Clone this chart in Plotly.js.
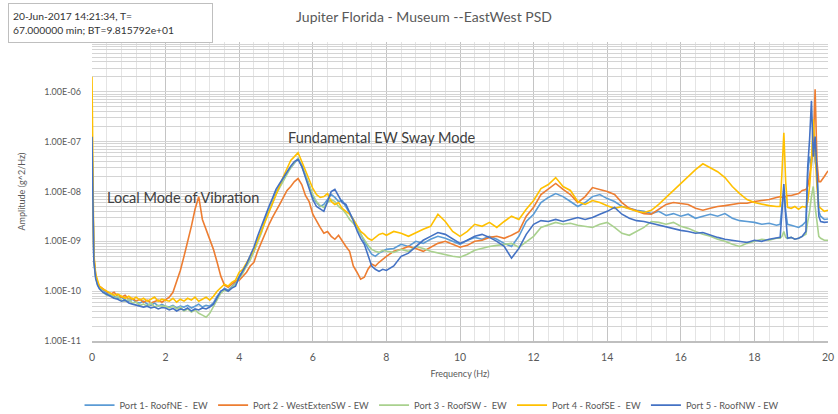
<!DOCTYPE html>
<html>
<head>
<meta charset="utf-8">
<script src="https://cdn.plot.ly/plotly-3.0.1.min.js"></script>
<style>html,body{margin:0;padding:0;background:#fff;}#chart{width:838px;height:414px;}</style>
</head>
<body>
<div id="chart"></div>
<script>
// Frequency (Hz)
const freq = [0,0.05,0.1,0.15,
0.2,0.3,0.4,0.5,0.6,0.7,0.8,0.9,1.0,1.1,1.2,1.3,1.4,1.5,1.6,1.7,1.8,1.9,
2.0,2.1,2.2,2.3,2.4,2.5,2.6,2.7,2.8,2.9,3.0,3.1,3.2,3.3,3.4,3.5,3.6,3.7,3.8,3.9,
4.0,4.1,4.2,4.3,4.4,4.5,4.6,4.7,4.8,4.9,5.0,5.1,5.2,5.3,5.4,5.5,5.6,5.7,5.8,5.9,
6.0,6.1,6.2,6.3,6.4,6.5,6.6,6.7,6.8,6.9,7.0,7.1,7.2,7.3,7.4,7.5,7.6,7.7,7.8,7.9,8.0,
8.2,8.4,8.6,8.8,9.0,9.2,9.4,9.6,9.8,10.0,10.2,10.4,10.6,10.8,11.0,11.2,11.4,11.6,11.8,12.0,12.2,12.4,12.6,12.8,13.0,13.2,13.4,13.6,13.8,14.0,14.2,14.4,14.6,14.8,15.0,15.2,15.4,15.6,15.8,16.0,16.2,16.4,16.6,16.8,17.0,17.2,17.4,17.6,17.8,18.0,18.2,18.4,18.6,
18.7,18.75,18.8,18.85,18.9,19.0,19.1,19.2,19.3,19.4,19.45,19.5,19.55,19.6,19.65,19.7,19.75,19.8,19.9,20.0];

// Amplitude (g^2/Hz)
const port1 = [1.1e-7,4.5e-10,2.0e-10,1.4e-10,
1.2e-10,1.05e-10,9.1e-11,8.3e-11,7.9e-11,7.2e-11,7.6e-11,6.6e-11,6.3e-11,6.9e-11,6.0e-11,5.8e-11,6.3e-11,5.5e-11,5.2e-11,5.8e-11,5.0e-11,5.4e-11,
5.0e-11,4.8e-11,5.2e-11,4.6e-11,5.0e-11,4.8e-11,5.2e-11,4.6e-11,5.0e-11,5.5e-11,4.8e-11,5.2e-11,5.0e-11,5.8e-11,7.9e-11,9.5e-11,1.15e-10,1.05e-10,1.26e-10,1.45e-10,
2.0e-10,2.5e-10,3.3e-10,4.6e-10,6.3e-10,1.05e-9,1.5e-9,2.75e-9,4.0e-9,5.8e-9,9.5e-9,1.26e-8,1.74e-8,2.4e-8,3.0e-8,3.8e-8,4.6e-8,3.3e-8,2.1e-8,1.38e-8,
7.9e-9,6.0e-9,5.0e-9,5.5e-9,6.9e-9,8.7e-9,7.6e-9,6.3e-9,6.6e-9,5.0e-9,3.6e-9,2.75e-9,2.0e-9,1.38e-9,1.0e-9,7.2e-10,5.5e-10,5.0e-10,5.8e-10,6.3e-10,6.9e-10,
7.2e-10,8.7e-10,7.9e-10,1.0e-9,9.1e-10,1.1e-9,1.26e-9,1.15e-9,1.0e-9,8.7e-10,1.05e-9,1.2e-9,1.1e-9,1.26e-9,1.1e-9,9.1e-10,7.9e-10,1.26e-9,2.5e-9,3.5e-9,6.0e-9,7.6e-9,9.1e-9,7.9e-9,6.3e-9,5.0e-9,6.0e-9,7.9e-9,8.7e-9,7.2e-9,6.3e-9,5.0e-9,4.6e-9,4.2e-9,4.0e-9,3.6e-9,4.0e-9,3.3e-9,3.6e-9,3.2e-9,3.5e-9,2.9e-9,3.2e-9,3.5e-9,3.2e-9,3.6e-9,2.9e-9,2.6e-9,2.5e-9,2.4e-9,2.2e-9,2.3e-9,2.1e-9,
2.2e-9,5.0e-9,1.0e-8,4.0e-9,2.2e-9,2.1e-9,2.0e-9,1.9e-9,2.1e-9,2.5e-9,2.5e-8,5.0e-8,3.2e-8,1.6e-7,4.0e-8,2.5e-8,4.0e-9,3.2e-9,2.75e-9,2.8e-9];

const port2 = [7.9e-8,5.0e-10,2.1e-10,1.5e-10,
1.26e-10,1.1e-10,1.0e-10,8.7e-11,9.5e-11,7.9e-11,7.6e-11,8.3e-11,6.9e-11,7.2e-11,6.3e-11,6.9e-11,6.0e-11,6.6e-11,5.8e-11,6.3e-11,6.6e-11,6.0e-11,
6.9e-11,7.6e-11,9.5e-11,1.5e-10,2.6e-10,5.0e-10,9.5e-10,2.0e-9,4.4e-9,7.9e-9,2.75e-9,1.74e-9,1.1e-9,6.9e-10,3.8e-10,2.0e-10,1.32e-10,1.2e-10,1.38e-10,1.58e-10,
1.66e-10,2.0e-10,2.4e-10,3.2e-10,3.8e-10,6.3e-10,9.5e-10,1.5e-9,2.1e-9,3.0e-9,4.2e-9,5.5e-9,7.6e-9,1.05e-8,1.26e-8,1.58e-8,1.82e-8,1.38e-8,8.3e-9,6.3e-9,
3.5e-9,2.5e-9,1.9e-9,1.45e-9,1.58e-9,1.26e-9,1.1e-9,1.32e-9,1.0e-9,7.9e-10,6.3e-10,3.2e-10,2.4e-10,1.74e-10,1.9e-10,2.75e-10,3.5e-10,3.2e-10,3.8e-10,4.4e-10,5.0e-10,
6.3e-10,6.9e-10,7.9e-10,7.2e-10,6.3e-10,7.6e-10,9.1e-10,1.0e-9,8.7e-10,7.6e-10,8.3e-10,1.0e-9,1.05e-9,1.2e-9,1.26e-9,1.15e-9,1.32e-9,1.58e-9,3.2e-9,4.8e-9,8.7e-9,1.1e-8,1.45e-8,1.1e-8,8.7e-9,6.0e-9,7.9e-9,1.2e-8,1.1e-8,1.0e-8,8.7e-9,6.0e-9,4.6e-9,4.0e-9,3.6e-9,3.5e-9,4.4e-9,5.5e-9,6.0e-9,5.8e-9,5.5e-9,4.6e-9,4.2e-9,4.6e-9,5.0e-9,5.2e-9,5.5e-9,5.8e-9,5.8e-9,6.3e-9,6.6e-9,6.9e-9,7.6e-9,
7.9e-9,7.6e-9,7.9e-9,7.9e-9,8.3e-9,8.3e-9,8.7e-9,9.1e-9,1.05e-8,1.1e-8,1.26e-8,2.0e-8,4.0e-8,7.9e-8,1.12e-6,4.0e-8,1.58e-8,1.58e-8,2.0e-8,2.6e-8];

const port3 = [1.0e-7,4.0e-10,1.9e-10,1.38e-10,
1.15e-10,9.5e-11,8.3e-11,9.1e-11,7.2e-11,7.9e-11,6.6e-11,6.3e-11,6.9e-11,5.8e-11,6.0e-11,5.2e-11,5.5e-11,5.0e-11,5.8e-11,4.8e-11,5.2e-11,5.0e-11,
5.0e-11,4.6e-11,5.0e-11,4.4e-11,4.8e-11,4.0e-11,4.4e-11,3.8e-11,4.2e-11,3.6e-11,3.3e-11,3.0e-11,3.6e-11,5.0e-11,6.9e-11,9.1e-11,1.05e-10,1.0e-10,1.2e-10,1.38e-10,
1.82e-10,2.3e-10,3.2e-10,4.2e-10,6.3e-10,9.5e-10,1.45e-9,2.5e-9,3.8e-9,5.5e-9,8.7e-9,1.2e-8,1.66e-8,2.3e-8,3.0e-8,3.8e-8,4.6e-8,3.2e-8,2.0e-8,1.32e-8,
8.7e-9,6.3e-9,5.2e-9,4.8e-9,6.0e-9,6.9e-9,6.3e-9,5.0e-9,4.4e-9,3.6e-9,2.75e-9,2.3e-9,1.82e-9,1.38e-9,1.05e-9,8.3e-10,6.9e-10,6.3e-10,6.0e-10,6.6e-10,6.3e-10,
6.0e-10,6.9e-10,6.3e-10,7.9e-10,7.2e-10,6.3e-10,5.8e-10,5.5e-10,5.0e-10,4.8e-10,5.5e-10,6.6e-10,7.2e-10,7.9e-10,8.3e-10,8.7e-10,9.1e-10,7.6e-10,1.0e-9,1.26e-9,1.9e-9,2.1e-9,2.4e-9,2.2e-9,2.3e-9,2.1e-9,2.0e-9,1.9e-9,2.2e-9,2.4e-9,1.9e-9,1.45e-9,1.32e-9,1.58e-9,1.9e-9,2.5e-9,2.4e-9,2.2e-9,2.4e-9,2.0e-9,1.82e-9,1.58e-9,1.38e-9,1.26e-9,1.1e-9,1.0e-9,8.7e-10,7.9e-10,9.1e-10,1.0e-9,1.1e-9,1.05e-9,1.15e-9,
1.15e-9,1.26e-9,1.58e-9,1.2e-9,1.15e-9,1.2e-9,1.1e-9,1.15e-9,1.26e-9,1.38e-9,2.5e-9,4.0e-9,7.9e-9,1.26e-8,5.0e-9,2.5e-9,1.26e-9,1.15e-9,1.05e-9,1.05e-9];

const port4 = [2.0e-6,5.6e-10,2.2e-10,1.58e-10,
1.26e-10,1.1e-10,1.0e-10,9.1e-11,8.3e-11,8.7e-11,7.9e-11,7.2e-11,7.9e-11,6.9e-11,7.6e-11,6.6e-11,7.2e-11,6.3e-11,6.9e-11,7.6e-11,6.3e-11,6.9e-11,
6.6e-11,6.3e-11,7.2e-11,6.0e-11,6.9e-11,6.3e-11,7.2e-11,6.6e-11,7.6e-11,6.3e-11,6.9e-11,7.6e-11,6.6e-11,7.9e-11,1.0e-10,1.2e-10,1.38e-10,1.26e-10,1.5e-10,1.66e-10,
2.4e-10,2.75e-10,3.6e-10,5.0e-10,6.9e-10,1.05e-9,1.58e-9,2.5e-9,3.6e-9,5.5e-9,8.7e-9,1.38e-8,2.0e-8,2.9e-8,4.2e-8,5.0e-8,6.0e-8,4.0e-8,2.6e-8,1.74e-8,
1.15e-8,8.7e-9,7.6e-9,7.9e-9,9.1e-9,6.3e-9,5.5e-9,6.0e-9,4.6e-9,4.0e-9,3.5e-9,2.75e-9,2.1e-9,1.58e-9,1.38e-9,1.15e-9,1.05e-9,1.2e-9,1.38e-9,1.45e-9,1.32e-9,
1.58e-9,1.45e-9,1.26e-9,1.5e-9,1.74e-9,2.0e-9,3.5e-9,2.5e-9,1.58e-9,1.26e-9,1.58e-9,2.2e-9,2.0e-9,2.4e-9,1.9e-9,2.5e-9,3.2e-9,2.75e-9,4.4e-9,6.6e-9,1.15e-8,1.38e-8,1.9e-8,1.26e-8,1.05e-8,6.3e-9,5.5e-9,6.6e-9,6.0e-9,5.2e-9,4.6e-9,5.0e-9,4.4e-9,4.0e-9,3.8e-9,4.2e-9,5.5e-9,7.6e-9,1.05e-8,1.45e-8,2.0e-8,2.75e-8,3.6e-8,3.0e-8,2.5e-8,1.9e-8,1.26e-8,9.1e-9,6.9e-9,6.0e-9,5.5e-9,5.2e-9,5.0e-9,
5.0e-9,2.5e-8,1.5e-7,1.58e-8,4.8e-9,4.6e-9,5.0e-9,4.4e-9,5.0e-9,4.8e-9,6.3e-9,1.26e-8,4.0e-8,2.8e-7,5.0e-8,1.26e-8,5.0e-9,4.6e-9,4.0e-9,4.2e-9];

const port5 = [1.26e-7,4.0e-10,1.78e-10,1.32e-10,
1.12e-10,9.5e-11,8.7e-11,7.9e-11,7.2e-11,6.9e-11,6.3e-11,6.6e-11,5.8e-11,5.5e-11,5.2e-11,5.0e-11,4.8e-11,5.0e-11,4.6e-11,4.8e-11,4.4e-11,4.7e-11,
4.6e-11,4.2e-11,4.5e-11,4.0e-11,4.4e-11,4.2e-11,4.6e-11,4.0e-11,4.4e-11,4.2e-11,4.6e-11,4.4e-11,4.8e-11,5.5e-11,7.6e-11,1.0e-10,1.1e-10,1.0e-10,1.15e-10,1.26e-10,
1.9e-10,2.6e-10,3.5e-10,5.2e-10,7.6e-10,1.26e-9,2.0e-9,3.3e-9,4.8e-9,7.2e-9,1.1e-8,1.45e-8,1.9e-8,2.5e-8,3.2e-8,4.0e-8,4.4e-8,3.2e-8,1.9e-8,1.26e-8,
6.9e-9,5.0e-9,4.4e-9,4.0e-9,6.3e-9,1.0e-8,1.1e-8,7.9e-9,6.0e-9,5.5e-9,3.8e-9,2.6e-9,1.66e-9,1.15e-9,8.7e-10,5.0e-10,3.2e-10,2.75e-10,2.5e-10,2.75e-10,2.6e-10,
3.2e-10,5.0e-10,5.8e-10,7.9e-10,1.05e-9,1.26e-9,1.5e-9,1.38e-9,1.1e-9,9.1e-10,1.05e-9,1.26e-9,1.38e-9,1.2e-9,1.0e-9,7.9e-10,4.6e-10,7.2e-10,1.38e-9,2.2e-9,2.6e-9,2.5e-9,2.75e-9,2.5e-9,2.75e-9,3.0e-9,2.75e-9,3.0e-9,3.5e-9,4.0e-9,4.8e-9,3.5e-9,2.9e-9,2.6e-9,2.5e-9,2.3e-9,2.1e-9,2.0e-9,1.82e-9,1.66e-9,1.58e-9,1.45e-9,1.5e-9,1.32e-9,1.2e-9,1.1e-9,1.05e-9,1.0e-9,9.5e-10,1.05e-9,1.0e-9,1.1e-9,1.15e-9,
1.2e-9,4.0e-9,1.41e-8,3.2e-9,1.15e-9,1.2e-9,1.1e-9,1.15e-9,1.26e-9,1.58e-9,3.2e-8,1.12e-7,6.6e-7,5.0e-8,1.26e-7,2.5e-8,3.2e-9,2.5e-9,2.4e-9,2.45e-9];

const seriesNames = ['Port 1- RoofNE -  EW','Port 2 - WestExtenSW - EW','Port 3 - RoofSW -  EW','Port 4 - RoofSE -  EW','Port 5 - RoofNW - EW'];
const seriesColors = ['#5B9BD5','#ED7D31','#A9D18E','#FFC000','#4472C4'];
const seriesData = [port1, port2, port3, port4, port5];

const xTickVals = [0,2,4,6,8,10,12,14,16,18,20];
const yDecades = [1e-11,1e-10,1e-9,1e-8,1e-7,1e-6,1e-5];
const yDecadeLabels = ['1.00E-11','1.00E-10','1.00E-09','1.00E-08','1.00E-07','1.00E-06',''];

// y gridlines: every decade plus 2..9 multiples
const yTickVals = [], yTickText = [];
yDecades.forEach((d, i) => {
  yTickVals.push(d); yTickText.push(yDecadeLabels[i]);
  if (i < yDecades.length - 1) {
    for (let m = 2; m <= 9; m++) { yTickVals.push(m * d); yTickText.push(''); }
  }
});

const FONT = 'Lato, "Open Sans", sans-serif';
const traces = seriesData.map((ys, i) => ({
  type: 'scatter', mode: 'lines', x: freq, y: ys, name: seriesNames[i],
  line: {color: seriesColors[i], width: 1.6}
}));

const layout = {
  width: 838, height: 414,
  margin: {l: 92, r: 10, t: 42, b: 73, autoexpand: false},
  paper_bgcolor: '#ffffff', plot_bgcolor: '#ffffff',
  font: {family: FONT, color: '#595959'},
  title: {text: 'Jupiter Florida - Museum --EastWest PSD', font: {family: FONT, size: 14, color: '#595959'},
          x: 0.506, xanchor: 'center', xref: 'container', y: 0.958, yanchor: 'middle', yref: 'container'},
  showlegend: true,
  legend: {orientation: 'h', x: 0.462, xanchor: 'center', y: -0.166, yanchor: 'top',
           font: {family: FONT, size: 9.3, color: '#595959'}, bgcolor: 'rgba(0,0,0,0)'},
  xaxis: {
    range: [0, 20], tickvals: xTickVals, ticktext: xTickVals.map(String),
    showgrid: true, gridcolor: '#c4c4c4', gridwidth: 1, zeroline: false,
    showline: true, linecolor: '#bfbfbf', linewidth: 2,
    ticks: '', ticklabelstandoff: 5, automargin: true,
    tickfont: {family: FONT, size: 10.5, color: '#595959'},
    minor: {dtick: 0.4, showgrid: true, gridcolor: '#e4e4e4', gridwidth: 1, ticks: ''},
    title: {text: 'Frequency (Hz)', font: {family: FONT, size: 9, color: '#595959'}, standoff: 9}
  },
  yaxis: {
    type: 'log', range: [-11, -5], tickmode: 'array', tickvals: yTickVals, ticktext: yTickText,
    showgrid: true, gridcolor: '#d4d4d4', gridwidth: 1, zeroline: false, showline: false,
    ticks: '', ticklabelstandoff: 10, automargin: true,
    tickfont: {family: FONT, size: 9, color: '#595959'},
    title: {text: 'Amplitude (g^2/Hz)', font: {family: FONT, size: 9, color: '#595959'}, standoff: 17}
  },
  annotations: [
    {text: '20-Jun-2017 14:21:34, T=<br>67.000000 min; BT=9.815792e+01', xref: 'paper', yref: 'paper',
     x: -0.114, y: 1.130, xanchor: 'left', yanchor: 'top', align: 'left', showarrow: false,
     width: 195, height: 30, borderpad: 4, borderwidth: 1, bordercolor: '#bfbfbf', bgcolor: '#ffffff',
     font: {family: FONT, size: 10.3, color: '#333333'}},
    {text: 'Fundamental EW Sway Mode', xref: 'x', yref: 'y', x: 5.28, y: -6.92, xanchor: 'left', yanchor: 'middle',
     showarrow: false, font: {family: FONT, size: 14.5, color: '#404040'}},
    {text: 'Local Mode of Vibration', xref: 'x', yref: 'y', x: 0.34, y: -8.12, xanchor: 'left', yanchor: 'middle',
     showarrow: false, font: {family: FONT, size: 14.5, color: '#404040'}}
  ]
};

Plotly.newPlot('chart', traces, layout, {displayModeBar: false, staticPlot: true});
</script>
</body>
</html>
